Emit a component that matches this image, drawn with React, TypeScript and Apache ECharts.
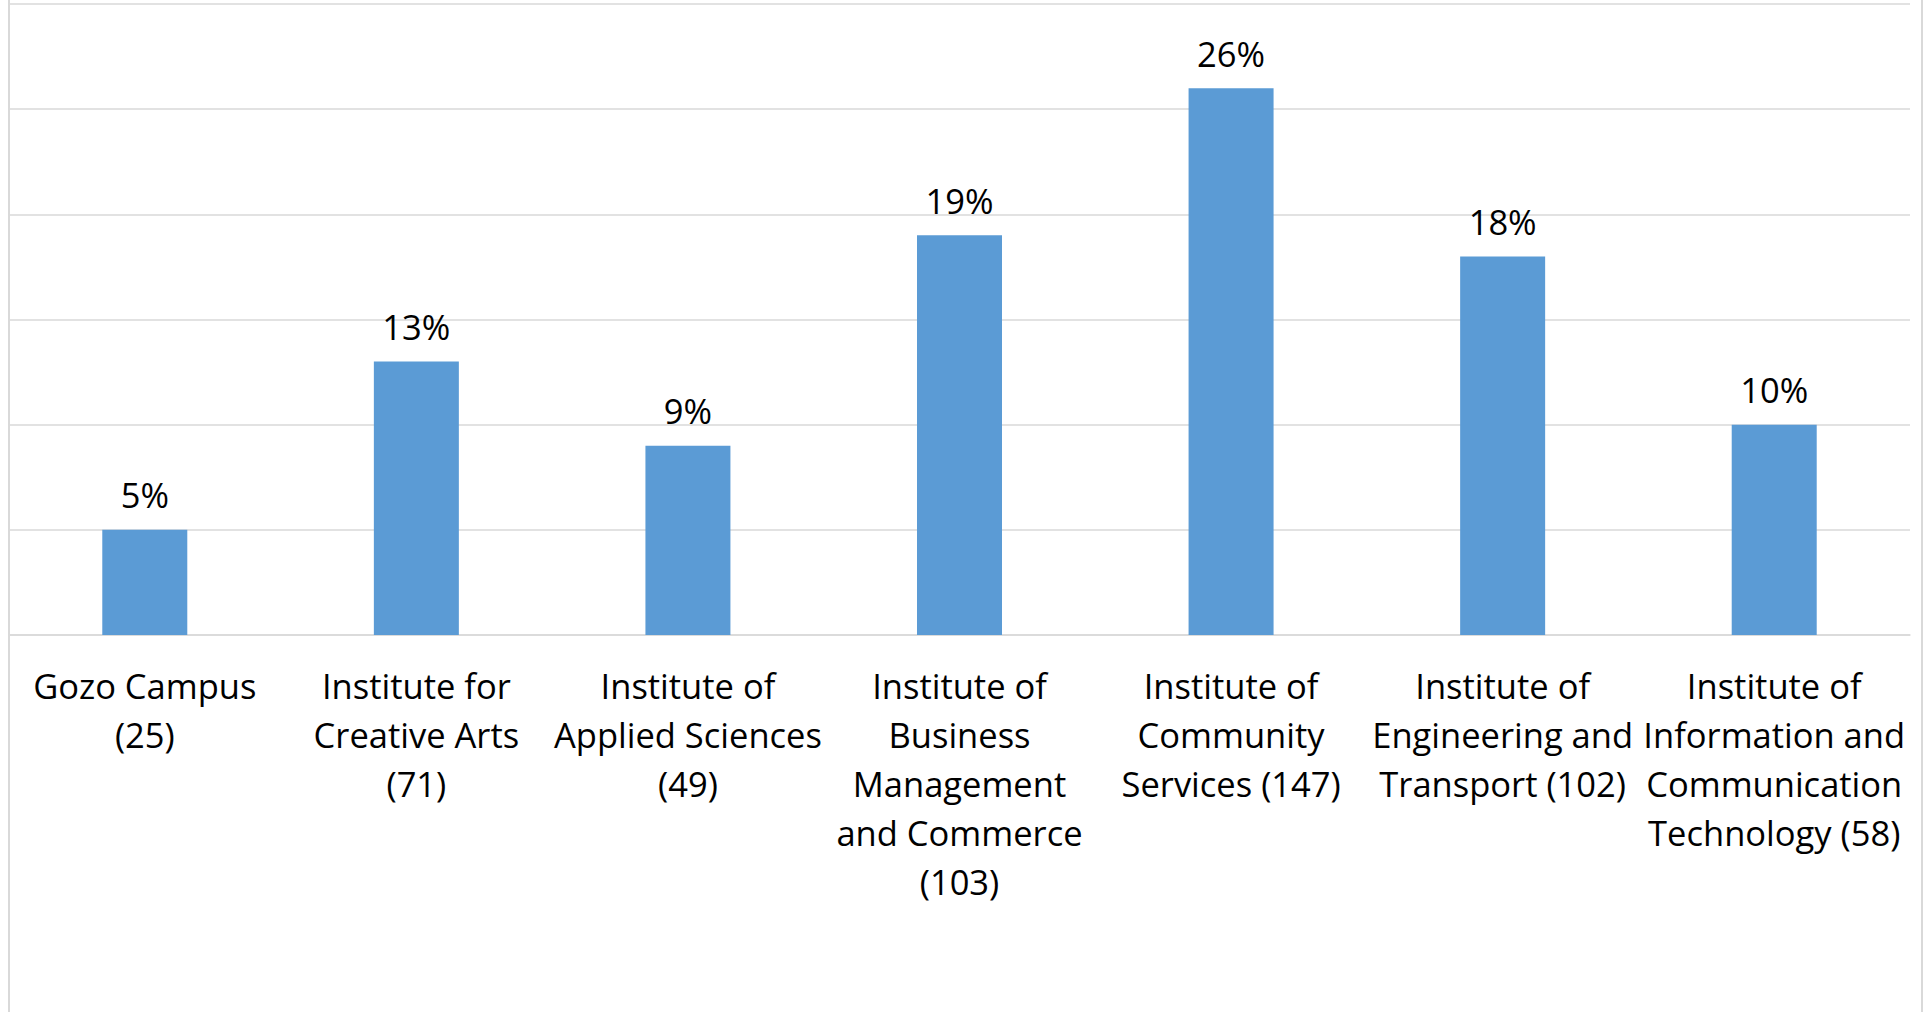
import React, { useEffect, useRef } from "react";
import * as echarts from "echarts";

const categories = [
  "Gozo Campus (25)",
  "Institute for Creative Arts (71)",
  "Institute of Applied Sciences (49)",
  "Institute of Business Management and Commerce (103)",
  "Institute of Community Services (147)",
  "Institute of Engineering and Transport (102)",
  "Institute of Information and Communication Technology (58)",
];

const categoryLines = [
  ["Gozo Campus", "(25)"],
  ["Institute for", "Creative Arts", "(71)"],
  ["Institute of", "Applied Sciences", "(49)"],
  ["Institute of", "Business", "Management", "and Commerce", "(103)"],
  ["Institute of", "Community", "Services (147)"],
  ["Institute of", "Engineering and", "Transport (102)"],
  ["Institute of", "Information and", "Communication", "Technology (58)"],
];

const percentValues = [5, 13, 9, 19, 26, 18, 10];

const yMin = 0;
const yMax = 30;
const yInterval = 5;

const FONT = "'Open Sans', 'Noto Sans', sans-serif";

export default function App() {
  const ref = useRef<HTMLDivElement>(null);
  useEffect(() => {
    document.body.style.margin = "0";
    if (!ref.current) return;
    const chart = echarts.init(ref.current, null, { renderer: "svg" });
    chart.setOption({
      animation: false,
      backgroundColor: "#ffffff",
      grid: { left: 9, right: 18, top: 4, bottom: 377, containLabel: false },
      xAxis: {
        type: "category",
        data: categories,
        axisLine: { show: true, lineStyle: { color: "#d9d9d9", width: 1.5 } },
        axisTick: { show: false },
        axisLabel: {
          interval: 0,
          hideOverlap: false,
          margin: 26,
          color: "#000000",
          fontFamily: FONT,
          fontSize: 34.5,
          lineHeight: 49,
          align: "center",
          formatter: (_v: string, i: number) => categoryLines[i].join("\n"),
        },
      },
      yAxis: {
        type: "value",
        min: yMin,
        max: yMax,
        interval: yInterval,
        axisLine: { show: false },
        axisTick: { show: false },
        axisLabel: { show: false },
        splitLine: { show: true, lineStyle: { color: "#d9d9d9", width: 1.5 } },
      },
      series: [
        {
          type: "bar",
          data: percentValues,
          barWidth: "31.3%",
          itemStyle: { color: "#5b9bd5" },
          label: {
            show: true,
            position: "top",
            distance: 18,
            color: "#000000",
            fontFamily: FONT,
            fontSize: 34.5,
            lineHeight: 34,
            formatter: (p: any) => `${p.value}%`,
          },
        },
      ],
      graphic: [
        { type: "rect", shape: { x: 8, y: 0, width: 2, height: 1012 }, style: { fill: "#d9d9d9" }, silent: true },
        { type: "rect", shape: { x: 1921, y: 0, width: 2, height: 1012 }, style: { fill: "#d9d9d9" }, silent: true },
      ],
    });
    return () => chart.dispose();
  }, []);
  return <div ref={ref} style={{ width: 1928, height: 1012 }} />;
}
